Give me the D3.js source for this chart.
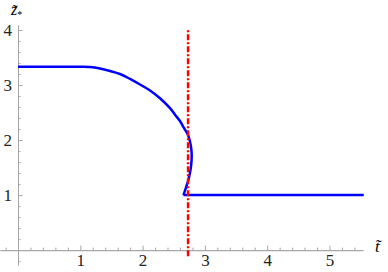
<!DOCTYPE html>
<html>
<head>
<meta charset="utf-8">
<script src="https://cdn.jsdelivr.net/npm/d3@7"></script>
<style>
  body { margin: 0; background: #fff; }
  svg { display: block; }
  .axis path, .axis line { stroke: #a6a6a6; }
</style>
</head>
<body>
<svg width="388" height="272"></svg>
<script>
// curve (t, z)
var curveT = [0, 0.3, 0.674, 1.0, 1.156, 1.316, 1.477, 1.637, 1.798, 1.958, 2.119, 2.279, 2.44, 2.52, 2.6, 2.664, 2.729, 2.765, 2.785, 2.788, 2.78, 2.76, 2.733, 2.70, 2.656];
var curveZ = [3.333, 3.333, 3.333, 3.332, 3.327, 3.30, 3.255, 3.2, 3.11, 3.009, 2.9, 2.76, 2.58, 2.46, 2.345, 2.22, 2.09, 1.95, 1.80, 1.70, 1.55, 1.40, 1.27, 1.15, 1.0];
// flat branch after the jump
var flatT = [2.656, 5.55];
var flatZ = [1.0, 1.0];
// dashed vertical marker
var markT = 2.73;
var markZ = [-0.11, 4.0];

var xTicks = [1, 2, 3, 4, 5];
var yTicks = [1, 2, 3, 4];

var svg = d3.select('svg');

var ScaleX = d3.scaleLinear().domain([-0.289, 5.538]).range([0, 363]);
var ScaleY = d3.scaleLinear().domain([-0.27, 4.09]).range([265, 25]);

// minor ticks every 0.2
var xMinor = d3.range(-0.2, 5.6, 0.2).filter(function(v){ return Math.abs(v - Math.round(v)) > 0.01; });
var yMinor = d3.range(-0.2, 4.1, 0.2).filter(function(v){ return Math.abs(v - Math.round(v)) > 0.01; });

// x axis
svg.append('g')
    .attr('class', 'axis')
    .attr('transform', 'translate(0,' + ScaleY(0) + ')')
    .call(d3.axisBottom(ScaleX).tickValues(xMinor).tickSize(-2.5).tickSizeOuter(0).tickFormat(''));
svg.append('g')
    .attr('class', 'axis')
    .attr('transform', 'translate(0,' + ScaleY(0) + ')')
    .call(d3.axisBottom(ScaleX).tickValues(xTicks).tickSize(-4.5).tickSizeOuter(0).tickPadding(4).tickFormat(d3.format('d')));

// y axis
svg.append('g')
    .attr('class', 'axis')
    .attr('transform', 'translate(' + ScaleX(0) + ',0)')
    .call(d3.axisLeft(ScaleY).tickValues(yMinor).tickSize(-2.5).tickSizeOuter(0).tickFormat(''));
svg.append('g')
    .attr('class', 'axis')
    .attr('transform', 'translate(' + ScaleX(0) + ',0)')
    .call(d3.axisLeft(ScaleY).tickValues(yTicks).tickSize(-4.5).tickSizeOuter(0).tickPadding(6).tickFormat(d3.format('d')));

svg.selectAll('.axis text')
    .style('fill', '#222')
    .style('font-family', "'Liberation Serif', 'Times New Roman', serif")
    .style('font-size', '17px');

// axis labels
svg.append('text')
    .attr('x', 375).attr('y', 252)
    .style('font-family', "'Liberation Serif', serif")
    .style('font-style', 'italic')
    .style('font-size', '17px')
    .text('t\u0303');
var zl = svg.append('text')
    .attr('x', 11).attr('y', 15)
    .style('font-family', "'Liberation Serif', serif")
    .style('font-size', '16px');
zl.append('tspan').style('font-style', 'italic').text('z\u0303');
zl.append('tspan').style('font-size', '10px').attr('dy', 3).text('*');

var line = d3.line()
    .x(function(d){ return ScaleX(d[0]); })
    .y(function(d){ return ScaleY(d[1]); });

var curveData = curveT.map(function(t, i){ return [t, curveZ[i]]; });
var flatData = flatT.map(function(t, i){ return [t, flatZ[i]]; });

svg.append('path')
    .datum(curveData)
    .attr('d', line.curve(d3.curveCatmullRom))
    .attr('fill', 'none')
    .attr('stroke', '#0000ff')
    .attr('stroke-width', 2.5);

svg.append('path')
    .datum(flatData)
    .attr('d', line.curve(d3.curveLinear))
    .attr('fill', 'none')
    .attr('stroke', '#0000ff')
    .attr('stroke-width', 2.5);

svg.append('line')
    .attr('x1', ScaleX(markT)).attr('x2', ScaleX(markT))
    .attr('y1', ScaleY(markZ[0])).attr('y2', ScaleY(markZ[1]))
    .attr('stroke', '#ff0000')
    .attr('stroke-width', 2.5)
    .attr('stroke-dasharray', '6,2,2,2');
</script>
</body>
</html>
